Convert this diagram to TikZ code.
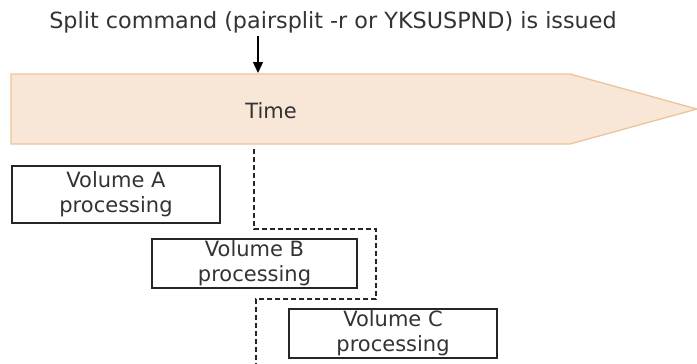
\documentclass[tikz,border=0pt]{standalone}
\usepackage{fontspec}
\setmainfont{DejaVu Sans}
\usepackage{tikz}
\usetikzlibrary{arrows.meta}
\definecolor{barfill}{RGB}{248,230,214}
\definecolor{barline}{RGB}{236,196,156}
\begin{document}
\begin{tikzpicture}[x=1pt,y=-1pt,
    every node/.style={text=black!80,font=\fontsize{21}{25}\selectfont},
    volbox/.style={draw=black!85,line width=1.3pt,align=center,inner sep=0pt},
    timebar/.style={fill=barfill,draw=barline,line width=1.3pt},
    dashcut/.style={draw=black!85,line width=1.3pt,dash pattern=on 5pt off 3pt}]
 \useasboundingbox (0,0) rectangle (697,364);
 \path[timebar] (11,74) -- (570,74) -- (697,109) -- (570,144) -- (11,144) -- cycle;
 \node[font=\fontsize{22.3}{26}\selectfont] (title) at (333,22) {Split command (pairsplit -r or YKSUSPND) is issued};
 \node (time) at (271,111) {Time};
 \coordinate (split) at (258,73);
 \draw[line width=1.3pt,-{Triangle[length=11pt,width=10pt]}] (title.south -| split) -- (split);
 \node[volbox,minimum width=208pt,minimum height=57pt] (volA) at (116,194.5) {Volume A\\processing};
 \node[volbox,minimum width=205pt,minimum height=49pt] (volB) at (254.5,263.5) {Volume B\\processing};
 \node[volbox,minimum width=208pt,minimum height=49pt] (volC) at (393,333.5) {Volume C\\processing};
 \coordinate (cut0) at (254,149);
 \coordinate (cut1) at (376,229);
 \coordinate (cut2) at (256,299);
 \coordinate (cut3) at (256,364);
 \draw[dashcut] (cut0) |- (cut1) |- (cut2) -- (cut3);
\end{tikzpicture}
\end{document}
